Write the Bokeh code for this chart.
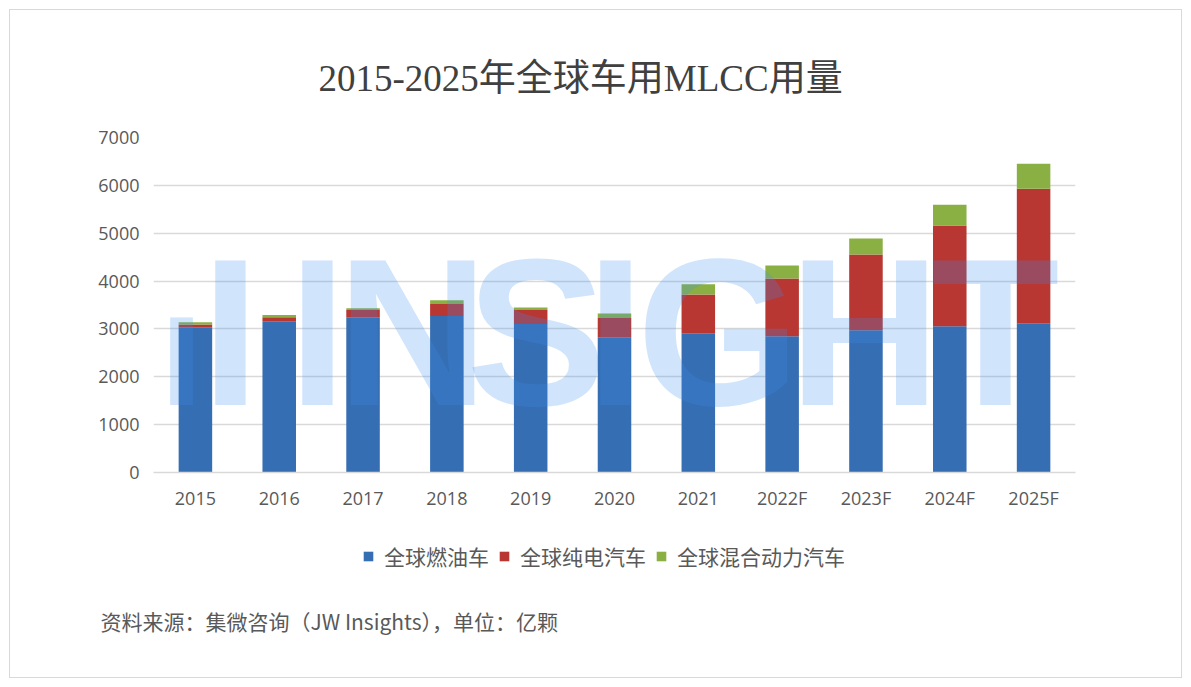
from bokeh.plotting import figure
from bokeh.layouts import column
from bokeh.models import (FactorRange, Range1d, Label, Legend, LegendItem, FixedTicker,
                          ColumnDataSource)
from bokeh.embed import file_html
from bokeh.resources import INLINE

# ---- data ----
years = ["2015", "2016", "2017", "2018", "2019", "2020", "2021", "2022F", "2023F", "2024F", "2025F"]
ice = [3035, 3160, 3243, 3270, 3105, 2825, 2910, 2847, 2972, 3056, 3118]
bev = [55, 83, 153, 250, 290, 405, 812, 1209, 1584, 2104, 2813]
hev = [50, 49, 35, 77, 55, 95, 209, 270, 333, 437, 520]
series_names = ["全球燃油车", "全球纯电汽车", "全球混合动力汽车"]
y_ticks = [0, 1000, 2000, 3000, 4000, 5000, 6000, 7000]
title_text = "2015-2025年全球车用MLCC用量"
source_text = "资料来源：集微咨询（JW Insights），单位：亿颗"
watermark = ["ı", "I", "I", "N", "S", "I", "G", "H", "T"]

# ---- style ----
colors = ["#366eb3", "#b83733", "#8ab043"]
TXT = "#595959"
FONT = "Open Sans"
CJK = "Noto Sans CJK SC"

X0, Y0 = 10, 10              # page position of the chart box
W = 1171
H1, H2 = 510, 157            # main figure / footer figure heights
FL, FR, FT = 143, 106, 127
frame_h = 335
FB = H1 - FT - frame_h
frame_w = W - FL - FR
cat_w = frame_w / len(years)
ymax = 7000.0

def sx(px):   # page x pixel -> synthetic x of the main figure
    return (px - (X0 + FL)) / cat_w

def sy(py):   # page y pixel -> data y of the main figure
    return (Y0 + FT + frame_h - py) / frame_h * ymax

def fx(px):   # page x pixel -> synthetic x of the footer figure
    return (px - X0) / (W / len(years))

def fy(py):   # page y pixel -> data y of the footer figure
    return (Y0 + H1 + H2) - py

source = ColumnDataSource({"years": years, "ice": ice, "bev": bev, "hev": hev})

p = figure(x_range=FactorRange(*years, range_padding=0), y_range=Range1d(0, ymax),
           width=W, height=H1, output_backend="svg", toolbar_location=None,
           min_border_left=FL, min_border_right=FR, min_border_top=FT, min_border_bottom=FB)
p.outline_line_color = None
p.border_fill_color = "white"

rs = p.vbar_stack(["ice", "bev", "hev"], x="years", width=0.4, color=colors,
                  source=source, line_color=None)

p.xgrid.grid_line_color = None
p.ygrid.grid_line_color = "#d9d9d9"
p.ygrid.grid_line_width = 1.6
p.yaxis.ticker = FixedTicker(ticks=y_ticks)

for ax in (p.xaxis[0], p.yaxis[0]):
    ax.major_tick_line_color = None
    ax.minor_tick_line_color = None
    ax.major_label_text_font = FONT
    ax.major_label_text_font_size = "18px"
    ax.major_label_text_color = TXT
p.yaxis.axis_line_color = None
p.yaxis.major_label_standoff = 8
p.xaxis.axis_line_color = "#d9d9d9"
p.xaxis.axis_line_width = 1.6
p.xaxis.major_label_standoff = 7

# title
p.title.text = title_text
p.title.align = "left"
p.title.offset = 318 - (X0 + FL)
p.title.standoff = 78
p.title.text_font = "Liberation Serif, Noto Sans CJK SC"
p.title.text_font_size = "37px"
p.title.text_font_style = "normal"
p.title.text_color = "#404040"

# watermark (semi-transparent, over the bars)
wm_centers = [181, 230, 317, 412, 536, 615, 718, 864, 995]
wm_sizes = [165, 210, 210, 210, 210, 210, 210, 210, 210]
for ch, cx, fs in zip(watermark, wm_centers, wm_sizes):
    p.add_layout(Label(x=sx(cx), y=sy(404 - 0.345 * fs), text=ch, text_align="center",
                       text_baseline="middle",
                       text_font="Liberation Sans Narrow, Liberation Sans",
                       text_font_style="bold", text_font_size=f"{fs}px",
                       text_color="#3b8ef0", text_alpha=0.24))

# ---- footer: legend + source ----
f = figure(x_range=FactorRange(*years, range_padding=0), y_range=Range1d(0, H2),
           width=W, height=H2, output_backend="svg", toolbar_location=None, min_border=0)
for fig in (p, f):
    try:
        fig.frame_align = False
    except Exception:
        pass
f.axis.visible = False
f.grid.visible = False
f.outline_line_color = None
f.border_fill_color = "white"
keys = f.vbar_stack(["ice", "bev", "hev"], x="years", width=0.4, color=colors,
                    source=source, line_color=None)
for r in keys:
    r.visible = False

legend = Legend(items=[LegendItem(label=n, renderers=[r]) for n, r in zip(series_names, keys)],
                orientation="horizontal", location=(362 - X0, 106),
                glyph_width=12, glyph_height=12, label_standoff=10, spacing=9,
                padding=0, margin=0, border_line_color=None, background_fill_alpha=0,
                label_text_font=CJK, label_text_font_size="21px", label_text_color=TXT,
                label_height=22)
f.add_layout(legend, "center")

f.add_layout(Label(x=fx(100), y=fy(620), text=source_text, text_align="left",
                   text_baseline="middle", text_font=CJK,
                   text_font_size="21px", text_color=TXT))

layout = column(p, f, spacing=0, margin=(Y0, 0, 0, X0))
layout.styles = {"outline": "1px solid #d9d9d9"}

open("out.html", "w").write(file_html(layout, INLINE))
